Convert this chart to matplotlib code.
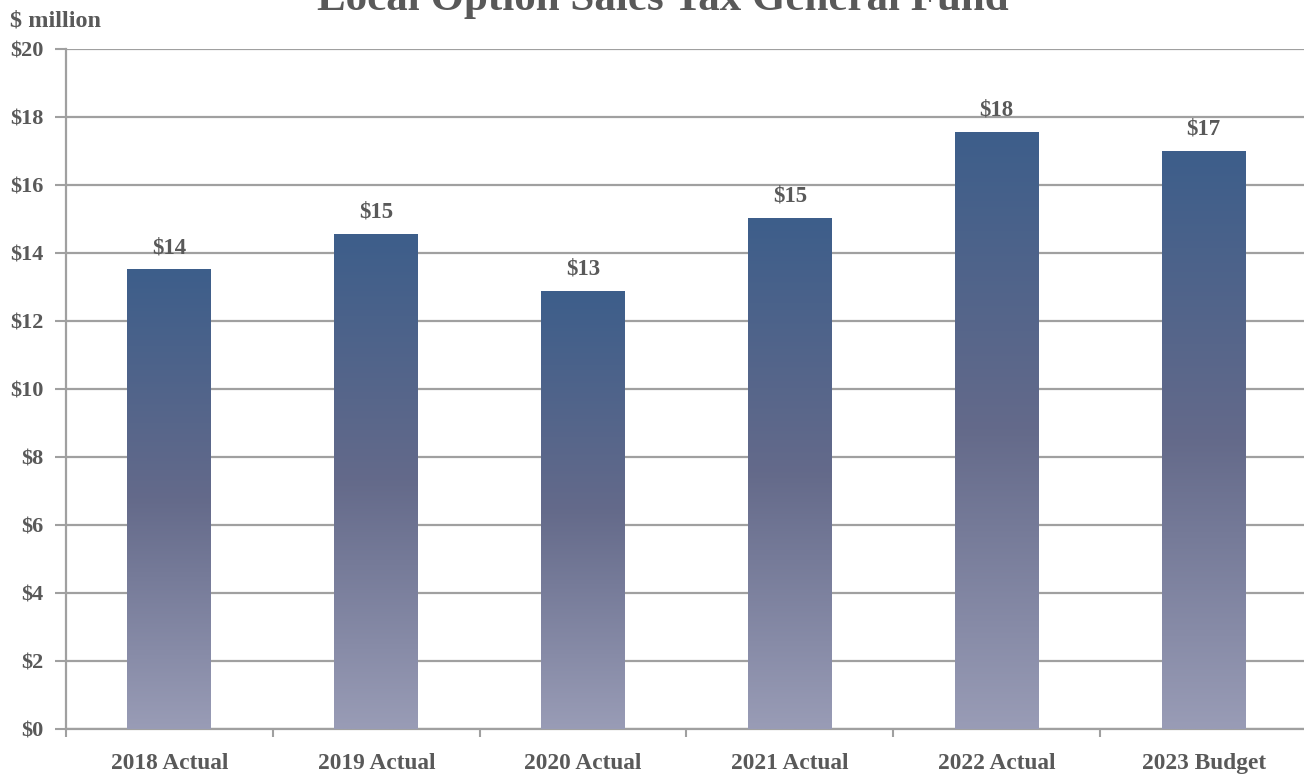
import matplotlib
matplotlib.use("Agg")
import matplotlib.pyplot as plt
import numpy as np
from matplotlib.colors import LinearSegmentedColormap

# Data ($ million)
categories = ["2018 Actual", "2019 Actual", "2020 Actual", "2021 Actual", "2022 Actual", "2023 Budget"]
values = [13.52, 14.56, 12.88, 15.03, 17.56, 17.0]
yticks = [0, 2, 4, 6, 8, 10, 12, 14, 16, 18, 20]

text_color = "#595959"
grid_color = "#a0a0a0"
font = ["Liberation Serif", "DejaVu Serif"]

W, H = 1304, 776
fig = plt.figure(figsize=(W / 100, H / 100), dpi=100)
ax = fig.add_axes([66 / W, 47 / H, 1241 / W, 680 / H])

x = np.arange(len(categories))
bar_w = 0.406
bars = ax.bar(x, values, width=bar_w, facecolor="none", edgecolor="none", zorder=3)

# vertical gradient per bar: dark blue at the top, light lavender at the bottom
cmap = LinearSegmentedColormap.from_list(
    "barfade", [(0.0, "#999cb6"), (0.5, "#646a8a"), (1.0, "#3d5e8b")])
grad = np.linspace(0, 1, 256).reshape(-1, 1)
for b in bars:
    x0, w, h = b.get_x(), b.get_width(), b.get_height()
    im = ax.imshow(grad, cmap=cmap, origin="lower", aspect="auto",
                   extent=(x0, x0 + w, 0, h), zorder=3, interpolation="bilinear")
    im.set_clip_path(b)

for xi, v in zip(x, values):
    ax.text(xi, v + 0.33, f"${v:.0f}", ha="center", va="bottom",
            fontsize=16.5, fontweight="bold", color=text_color, family=font, zorder=4)

ax.set_xlim(-0.5, len(categories) - 0.5)
ax.set_ylim(0, 20)
ax.set_yticks(yticks)
ax.set_yticklabels([f"${t}" for t in yticks])
ax.yaxis.grid(True, color=grid_color, linewidth=1.6, zorder=0)
ax.set_axisbelow(True)

ax.set_xticks(x)
ax.set_xticklabels(categories)
ax.set_xticks(np.arange(-0.5, len(categories), 1.0), minor=True)
ax.tick_params(axis="x", which="major", length=0, pad=17)
ax.tick_params(axis="x", which="minor", length=6, width=1.5, color=grid_color)
ax.tick_params(axis="y", length=8, width=1.5, color=grid_color, pad=8)

for lab in ax.get_xticklabels() + ax.get_yticklabels():
    lab.set_family(font)
    lab.set_fontweight("bold")
    lab.set_color(text_color)
for lab in ax.get_xticklabels():
    lab.set_fontsize(16.8)
for lab in ax.get_yticklabels():
    lab.set_fontsize(16)

for side in ("top", "right"):
    ax.spines[side].set_visible(False)
ax.spines["left"].set_color(grid_color)
ax.spines["left"].set_linewidth(1.6)
ax.spines["bottom"].set_color(grid_color)
ax.spines["bottom"].set_linewidth(1.6)

fig.text(10 / W, 1 - 27 / H, "$ million", ha="left", va="baseline",
         fontsize=17.5, fontweight="bold", color=text_color, family=font)
fig.text(663 / W, 1 - 10 / H, "Local Option Sales Tax General Fund", ha="center",
         va="baseline", fontsize=31, fontweight="bold", color=text_color, family=font)

fig.savefig("out.png", dpi=100)
